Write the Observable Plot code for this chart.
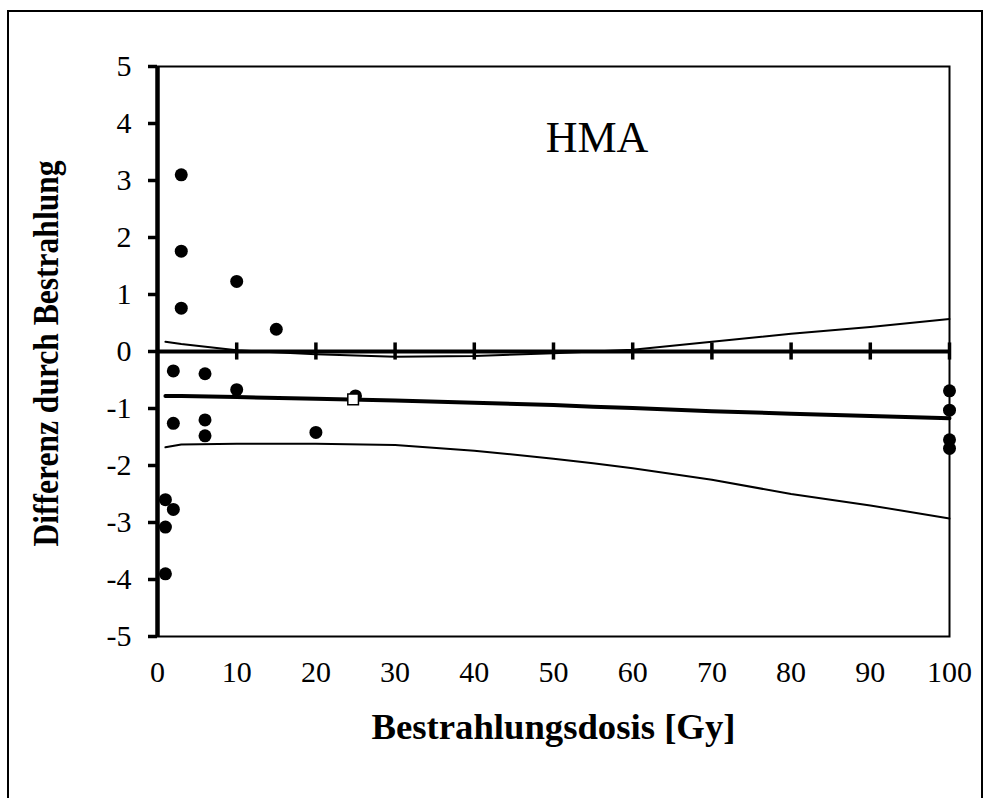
<!DOCTYPE html>
<html>
<head>
<meta charset="utf-8">
<script src="https://cdn.jsdelivr.net/npm/d3@7"></script>
<script src="https://cdn.jsdelivr.net/npm/@observablehq/plot@0.6"></script>
<style>
  html, body { margin: 0; padding: 0; background: #fff; }
  #wrap { position: relative; width: 993px; height: 798px; overflow: hidden; }
  #border { position: absolute; left: 7px; top: 10px; width: 976px; height: 800px; border: 2px solid #000; box-sizing: border-box; }
  #chart { position: absolute; left: 0; top: 0; }
</style>
</head>
<body>
<div id="wrap"><div id="border"></div><div id="chart"></div></div>
<script>
const title = "HMA";
const xLabel = "Bestrahlungsdosis [Gy]";
const yLabel = "Differenz durch Bestrahlung";
const xTicks = [0, 10, 20, 30, 40, 50, 60, 70, 80, 90, 100];
const yTicks = [-5, -4, -3, -2, -1, 0, 1, 2, 3, 4, 5];

// measured points (dose, difference)
const pointDose = [3, 3, 10, 3, 15, 2, 6, 10, 25, 2, 6, 6, 20, 1, 2, 1, 1, 100, 100, 100, 100];
const pointDiff = [3.10, 1.76, 1.23, 0.76, 0.39, -0.34, -0.39, -0.67, -0.78, -1.26, -1.20, -1.48, -1.42, -2.60, -2.77, -3.08, -3.90, -0.69, -1.03, -1.55, -1.70];

// open square marker
const squareDose = [24.7];
const squareDiff = [-0.84];

// regression line and confidence band
const lineDose = [1, 3, 10, 20, 30, 40, 50, 55, 60, 70, 80, 90, 100];
const meanDiff = [-0.78, -0.78, -0.80, -0.83, -0.86, -0.90, -0.94, -0.97, -0.99, -1.05, -1.09, -1.13, -1.17];
const upperDiff = [0.17, 0.13, 0.02, -0.05, -0.09, -0.08, -0.03, 0.0, 0.03, 0.17, 0.31, 0.43, 0.57];
const lowerDiff = [-1.68, -1.63, -1.62, -1.62, -1.64, -1.74, -1.88, -1.96, -2.05, -2.25, -2.50, -2.70, -2.93];

const points = pointDose.map((x, i) => ({x, y: pointDiff[i]}));
const squares = squareDose.map((x, i) => ({x, y: squareDiff[i]}));
const mean = lineDose.map((x, i) => ({x, y: meanDiff[i]}));
const upper = lineDose.map((x, i) => ({x, y: upperDiff[i]}));
const lower = lineDose.map((x, i) => ({x, y: lowerDiff[i]}));

const fmt = d => String(d);

const chart = Plot.plot({
  width: 993,
  height: 798,
  marginLeft: 157,
  marginRight: 44,
  marginTop: 66,
  marginBottom: 162,
  style: {fontFamily: "'Liberation Serif', 'Times New Roman', serif", fontSize: "30px", color: "#000", background: "transparent"},
  x: {domain: [0, 100]},
  y: {domain: [-5, 5]},
  marks: [
    Plot.frame({stroke: "#000", strokeWidth: 2}),
    Plot.axisX({ticks: xTicks, tickFormat: fmt, tickSize: 0, tickPadding: 24, fontSize: 30, label: null}),
    Plot.axisY({ticks: yTicks, tickFormat: fmt, tickSize: 9, tickPadding: 17, strokeWidth: 3.5, fontSize: 30, label: null}),
    Plot.line(upper, {x: "x", y: "y", stroke: "#000", strokeWidth: 2}),
    Plot.line(lower, {x: "x", y: "y", stroke: "#000", strokeWidth: 2}),
    Plot.line(mean, {x: "x", y: "y", stroke: "#000", strokeWidth: 4}),
    Plot.ruleY([0], {stroke: "#000", strokeWidth: 4}),
    Plot.ruleX(xTicks.filter(v => v > 0), {x: d => d, y1: -0.15, y2: 0.15, stroke: "#000", strokeWidth: 3.5}),
    Plot.ruleX([0], {stroke: "#000", strokeWidth: 4.5}),
    Plot.dot(points, {x: "x", y: "y", r: 6.5, fill: "#000", stroke: "none"}),
    Plot.dot(squares, {x: "x", y: "y", symbol: "square", r: 6, fill: "#fff", stroke: "#000", strokeWidth: 1.5}),
    Plot.text([title], {x: 55.5, y: 3.75, text: d => d, fontSize: 44, fill: "#000"}),
    Plot.text([xLabel], {frameAnchor: "bottom", dy: 102, text: d => d, fontSize: 36, fontWeight: "bold", fill: "#000", className: "xlab"}),
    Plot.text([yLabel], {frameAnchor: "left", dx: -111, dy: 2, rotate: -90, textAnchor: "middle", text: d => d, fontSize: 36, fontWeight: "bold", fill: "#000", className: "ylab"})
  ]
});
// fit axis titles to measured lengths
d3.select(chart).selectAll(".ylab text").attr("textLength", 386).attr("lengthAdjust", "spacingAndGlyphs");
d3.select(chart).selectAll(".xlab text").attr("textLength", 364).attr("lengthAdjust", "spacingAndGlyphs");
document.getElementById("chart").appendChild(chart);
</script>
</body>
</html>
